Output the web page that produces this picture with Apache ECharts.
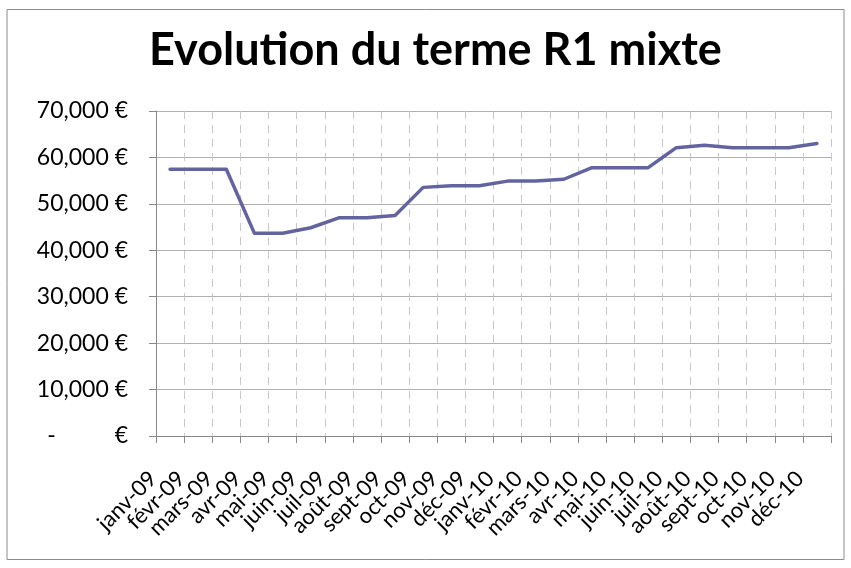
<!DOCTYPE html>
<html>
<head>
<meta charset="utf-8">
<script src="https://cdn.jsdelivr.net/npm/echarts@6/dist/echarts.min.js"></script>
<style>
  html, body { margin: 0; padding: 0; background: #fff; }
  #mainChart { width: 851px; height: 568px; }
</style>
</head>
<body>
<div id="mainChart"></div>
<script>
var months = ["janv-09", "févr-09", "mars-09", "avr-09", "mai-09", "juin-09", "juil-09", "août-09",
    "sept-09", "oct-09", "nov-09", "déc-09", "janv-10", "févr-10", "mars-10", "avr-10",
    "mai-10", "juin-10", "juil-10", "août-10", "sept-10", "oct-10", "nov-10", "déc-10"];
var termeR1 = [57450, 57450, 57450, 43650, 43650, 44850, 47000, 47000,
    47500, 53550, 53900, 53900, 54900, 54900, 55300, 57800,
    57800, 57800, 62100, 62600, 62100, 62100, 62100, 63000];

var myChart = echarts.init(document.getElementById("mainChart"));

function euro(v) {
    if (v === 0) {
        return "-          €";
    }
    return v.toLocaleString("en-US") + " €";
}

var option = {
    animation: false,
    textStyle: {
        fontFamily: "Lato"
    },
    title: {
        text: "Evolution du terme R1 mixte",
        left: 144,
        top: 23,
        textStyle: {
            fontFamily: "Lato",
            fontSize: 45,
            fontWeight: "bold",
            color: "#000"
        }
    },
    graphic: [{
        type: "rect",
        shape: { x: 7, y: 9.5, width: 837, height: 550 },
        style: { fill: "none", stroke: "#8c8c8c", lineWidth: 1 }
    }],
    grid: {
        left: 156,
        right: 20,
        top: 111,
        bottom: 132
    },
    xAxis: {
        type: "category",
        data: months,
        boundaryGap: true,
        axisLine: { lineStyle: { color: "#888", width: 1 } },
        axisTick: { show: true, length: 7, lineStyle: { color: "#888" } },
        axisLabel: {
            rotate: 45,
            interval: 0,
            margin: 22,
            padding: [0, 24, 0, 0],
            fontSize: 22,
            color: "#000"
        },
        splitLine: {
            show: true,
            lineStyle: { color: "#c8c8c8", type: [8, 6] }
        }
    },
    yAxis: {
        type: "value",
        min: 0,
        max: 70000,
        interval: 10000,
        axisLine: { show: true, lineStyle: { color: "#888" } },
        axisTick: { show: true, length: 7, lineStyle: { color: "#888" } },
        axisLabel: {
            formatter: euro,
            fontSize: 23,
            margin: 28,
            color: "#000"
        },
        splitLine: {
            lineStyle: { color: "#b0b0b0", width: 1 }
        }
    },
    series: [{
        type: "line",
        data: termeR1,
        symbol: "none",
        lineStyle: {
            color: "#63649f",
            width: 3.5,
            join: "round",
            cap: "round"
        }
    }]
};

myChart.setOption(option);
</script>
</body>
</html>
